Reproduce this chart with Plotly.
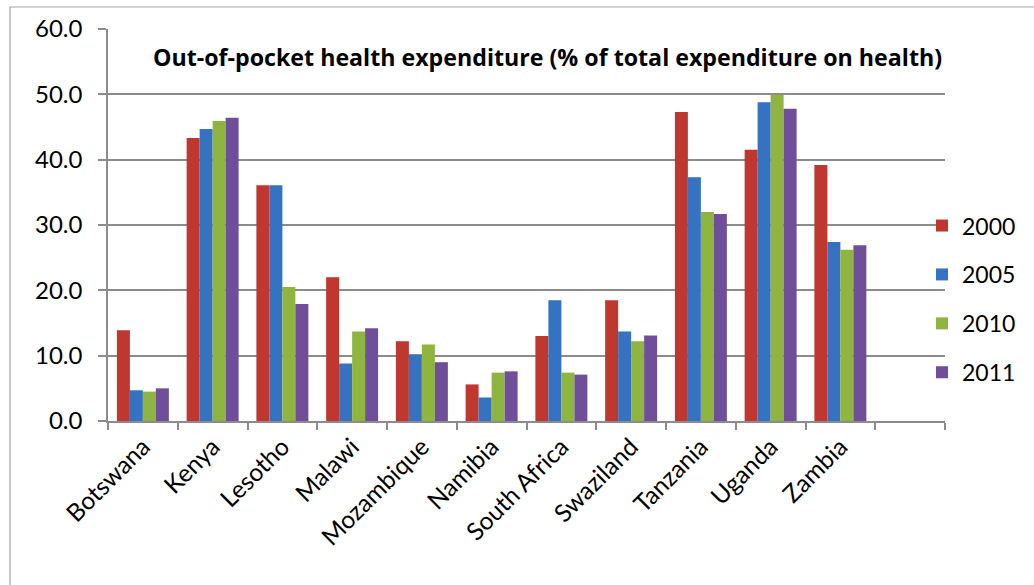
import plotly.graph_objects as go

countries = ["Botswana", "Kenya", "Lesotho", "Malawi", "Mozambique", "Namibia",
             "South Africa", "Swaziland", "Tanzania", "Uganda", "Zambia"]
years = ["2000", "2005", "2010", "2011"]
v2000 = [13.9, 43.3, 36.1, 22.0, 12.2, 5.6, 13.0, 18.5, 47.3, 41.5, 39.2]
v2005 = [4.7, 44.7, 36.1, 8.8, 10.2, 3.6, 18.5, 13.7, 37.3, 48.8, 27.4]
v2010 = [4.5, 45.9, 20.5, 13.7, 11.7, 7.4, 7.4, 12.2, 32.0, 49.9, 26.2]
v2011 = [5.0, 46.4, 17.9, 14.2, 9.0, 7.6, 7.1, 13.1, 31.7, 47.8, 26.9]
colors = ["#C0372F", "#3572C2", "#8FB540", "#6F4E9A"]
title = "Out-of-pocket health expenditure (% of total expenditure on health)"
yticks = [0, 10, 20, 30, 40, 50, 60]

FONT = "Lato"
fig = go.Figure()
for name, vals, col in zip(years, [v2000, v2005, v2010, v2011], colors):
    fig.add_trace(go.Bar(x=countries, y=vals, name=name, legendgroup=name,
                         marker=dict(color=col, line=dict(width=0))))

fig.update_layout(
    width=1034, height=585,
    margin=dict(l=108, r=89, t=29, b=164, autoexpand=False),
    paper_bgcolor="white", plot_bgcolor="white",
    barmode="group", bargap=0.255, bargroupgap=0.0,
    font=dict(family=FONT, size=22, color="#000000"),
    showlegend=True,
    legend=dict(x=0.9725, xanchor="left", y=0.311, yanchor="middle",
                font=dict(size=23, family=FONT), itemwidth=30,
                tracegroupgap=16, bgcolor="rgba(0,0,0,0)"),
    xaxis=dict(type="category", categoryorder="array", categoryarray=countries + [" "],
               range=[-0.5, 11.5], tickson="boundaries", ticks="outside", ticklen=7,
               tickcolor="#8C8C8C", tickwidth=1.5, showline=True, linecolor="#8C8C8C", linewidth=1.5,
               tickangle=-45, tickfont=dict(size=24.5, family=FONT), showgrid=False, fixedrange=True),
    yaxis=dict(range=[0, 60], tickvals=yticks, tickformat=".1f", ticks="outside", ticklen=8,
               tickcolor="#8C8C8C", tickwidth=1.5, showline=True, linecolor="#8C8C8C", linewidth=1.5,
               showgrid=True, gridcolor="#8C8C8C", gridwidth=1.5, zeroline=False,
               tickfont=dict(size=24, family=FONT), ticklabelstandoff=11),
)
fig.add_annotation(text="<b>" + title + "</b>", xref="paper", yref="paper",
                   x=0.5245, y=0.9286, xanchor="center", yanchor="middle", showarrow=False,
                   font=dict(size=23.2, family="Open Sans", color="#000000"))
fig.add_shape(type="rect", xref="paper", yref="paper",
              x0=(10 - 108) / 837, x1=1.3, y0=-1.0, y1=(421 - 7) / 392,
              line=dict(color="#A6A6A6", width=1.2), fillcolor="rgba(0,0,0,0)", layer="below")
fig.write_html("out.html")
